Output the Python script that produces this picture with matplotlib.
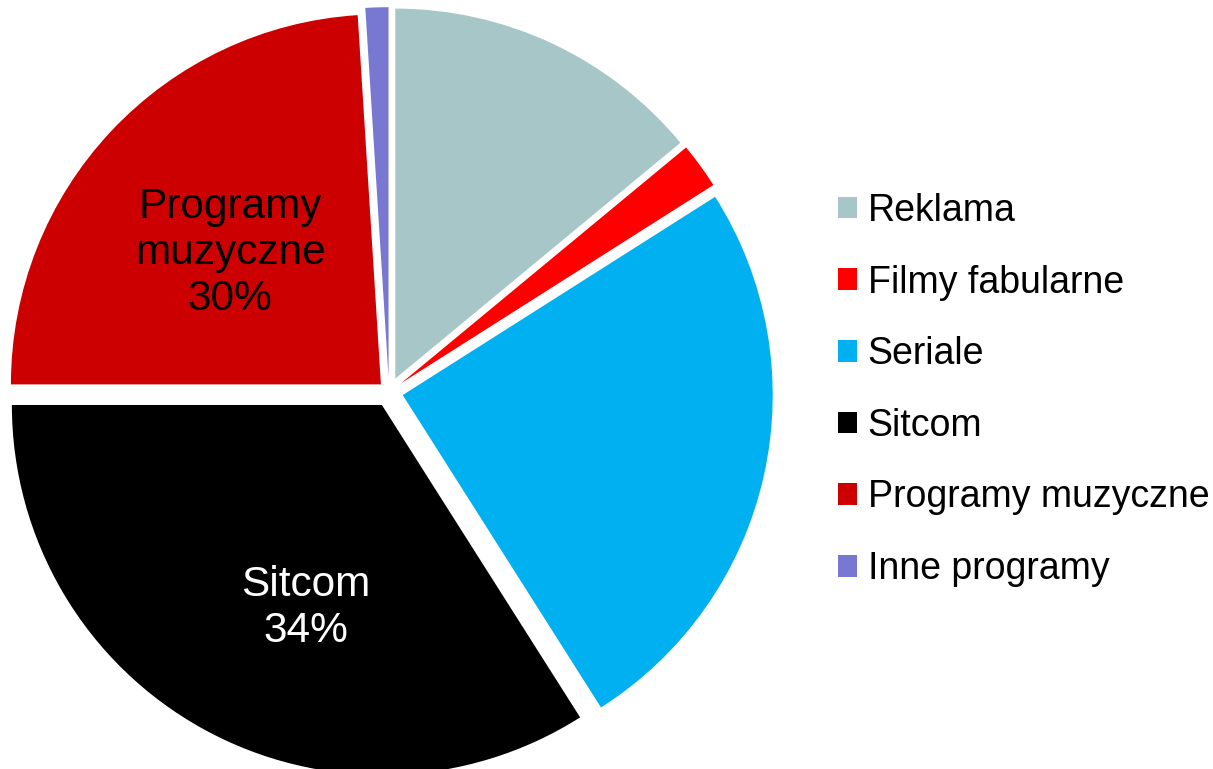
import matplotlib
matplotlib.use("Agg")
import matplotlib.pyplot as plt
from matplotlib.patches import Patch

plt.rcParams['font.family'] = ['Liberation Sans', 'DejaVu Sans']

categories = ["Reklama", "Filmy fabularne", "Seriale", "Sitcom",
              "Programy muzyczne", "Inne programy"]
values = [14, 2, 25, 34, 24, 1]
slice_labels = ["", "", "", "Sitcom\n34%", "Programy\nmuzyczne\n30%", ""]
colors = ["#A6C6C8", "#FF0000", "#00B0F0", "#000000", "#CC0000", "#7878D2"]
label_colors = ["black", "black", "black", "white", "black", "black"]
explode = [0.04, 0.04, 0.038, 0.04, 0.03, 0.04]
# small nudges of the in-slice labels (in pie radii)
label_nudge = [(0, 0), (0, 0), (0, 0), (0.068, -0.049), (0.008, -0.035), (0, 0)]

W, H = 1213, 769
fig = plt.figure(figsize=(W / 100, H / 100), dpi=100)
R = 370.0
cx, cy = 389.0, 769 - 392.0
axw = 800.0
ax = fig.add_axes([0, 0, axw / W, 1])

wedges, texts = ax.pie(values, labels=slice_labels, colors=colors, explode=explode,
                       startangle=90, counterclock=False, radius=1,
                       labeldistance=0.57, normalize=True,
                       wedgeprops=dict(linewidth=0),
                       textprops=dict(fontsize=30.5, ha="center", va="center",
                                      linespacing=1.2))
for t, c, (dx, dy) in zip(texts, label_colors, label_nudge):
    t.set_color(c)
    x, y = t.get_position()
    t.set_position((x + dx, y + dy))
ax.set_aspect("auto")
ax.set_xlim(-cx / R, (axw - cx) / R)
ax.set_ylim(-cy / R, (H - cy) / R)
ax.axis("off")

handles = [Patch(facecolor=c, edgecolor="none") for c in colors]
fig.legend(handles, categories, loc="center left",
           bbox_to_anchor=(838 / W, (H - 390) / H), frameon=False,
           fontsize=27, handlelength=0.51, handleheight=0.51,
           handletextpad=0.28, labelspacing=0.95, borderpad=0, borderaxespad=0)

fig.savefig("out.png", dpi=100)
